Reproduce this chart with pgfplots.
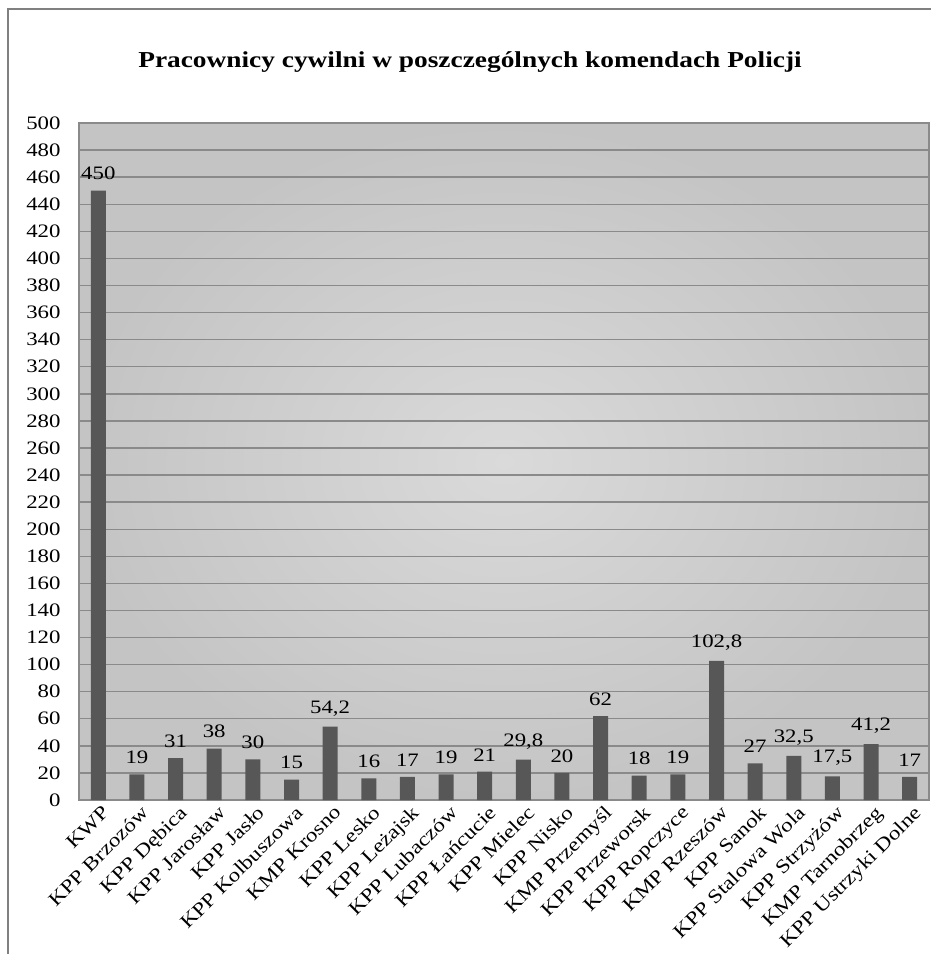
\documentclass[border=0pt]{standalone}
\usepackage{fontspec}
\setmainfont{Liberation Serif}[FakeStretch=1.2]
\usepackage{pgfplots}
\pgfplotsset{compat=1.18}
\definecolor{barc}{HTML}{575757}
\definecolor{gridc}{HTML}{8A8A8A}
\definecolor{bgin}{HTML}{DADADA}
\definecolor{bgout}{HTML}{C4C4C4}

\begin{document}
\begin{tikzpicture}[x=1pt,y=1pt]
\path[use as bounding box] (0,0) rectangle (931,954);
\draw[gray, line width=2pt] (8,0) -- (8,945) -- (931,945);
\node[font=\bfseries\fontsize{22.8}{22.8}\selectfont] at (470,892) {Pracownicy cywilni w poszczególnych komendach Policji};
\begin{axis}[
  at={(79pt,154pt)}, anchor=south west,
  scale only axis, width=850pt, height=677pt,
  ymin=0, ymax=500, ytick distance=20,
  xmin=-0.5, xmax=21.5,
  xtick={0,...,21},
  xticklabels={KWP, KPP Brzozów, KPP Dębica, KPP Jarosław, KPP Jasło, KPP Kolbuszowa, KMP Krosno, KPP Lesko, KPP Leżajsk, KPP Lubaczów, KPP Łańcucie, KPP Mielec, KPP Nisko, KMP Przemyśl, KPP Przeworsk, KPP Ropczyce, KMP Rzeszów, KPP Sanok, KPP Stalowa Wola, KPP Strzyżów, KMP Tarnobrzeg, KPP Ustrzyki Dolne},
  xticklabel style={rotate=45, anchor=north east, font=\fontsize{19.3}{19.3}\selectfont, inner sep=1pt, yshift=-4pt},
  yticklabel style={font=\fontsize{19}{19}\selectfont, xshift=-15pt},
  /pgf/number format/assume math mode=true,
  major tick length=0pt,
  ymajorgrids, grid style={gridc, line width=1.4pt},
  axis line style={gridc, line width=1.2pt},
  axis background/.style={shade, inner color=bgin, outer color=bgout},
  ybar, bar width=15pt,
  nodes near coords,
  every node near coord/.append style={font=\fontsize{19}{19}\selectfont, text=black, yshift=7pt},
  /pgf/number format/.cd, use comma, 1000 sep={},
]
\addplot[fill=barc, draw=none] coordinates {
  (0,450) (1,19) (2,31) (3,38) (4,30) (5,15) (6,54.2) (7,16) (8,17) (9,19) (10,21)
  (11,29.8) (12,20) (13,62) (14,18) (15,19) (16,102.8) (17,27) (18,32.5) (19,17.5)
  (20,41.2) (21,17)
};
\end{axis}
\end{tikzpicture}
\end{document}
